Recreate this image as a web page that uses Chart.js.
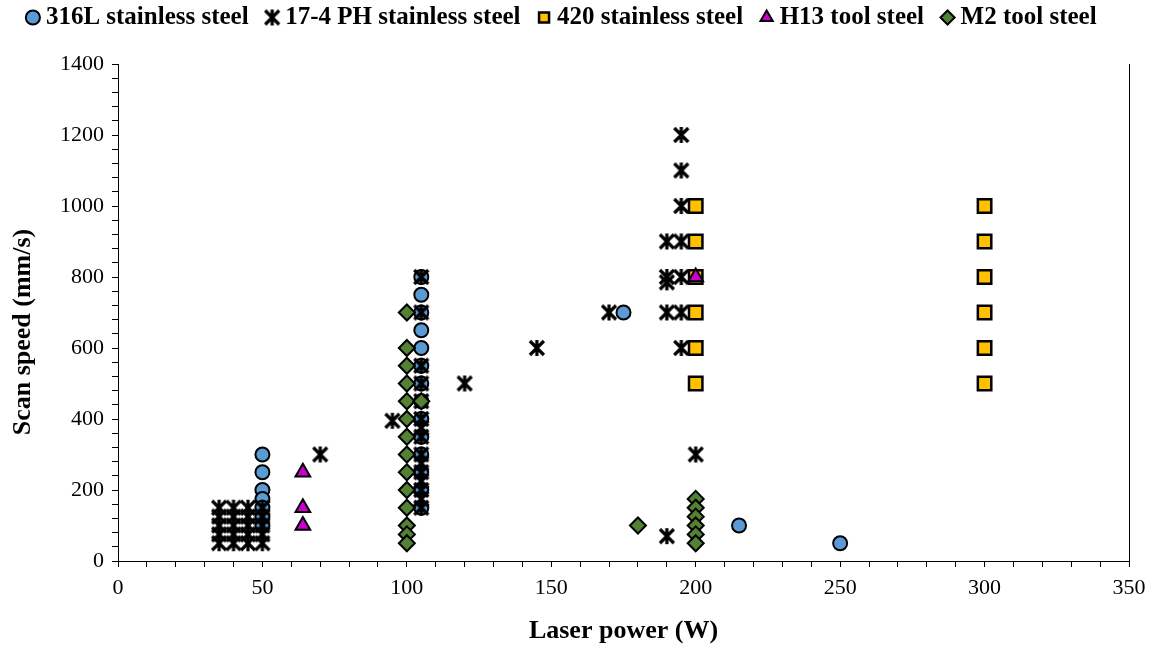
<!DOCTYPE html>
<html>
<head>
<meta charset="utf-8">
<title>Scan speed vs laser power</title>
<script src="https://cdn.jsdelivr.net/npm/chart.js@4.4.1/dist/chart.umd.min.js"></script>
<style>
  html, body { margin: 0; padding: 0; background: #ffffff; }
  #wrap { width: 1162px; height: 651px; position: relative; }
</style>
</head>
<body>
<div id="wrap"><canvas id="chart"></canvas></div>
<script>
// Data: [laser power (W), scan speed (mm/s)]
const seriesNames = ['316L stainless steel', '17-4 PH stainless steel', '420 stainless steel', 'H13 tool steel', 'M2 tool steel'];

const ss316L = [
    [50, 300], [50, 250], [50, 200], [50, 175], [50, 150], [50, 125], [50, 100],
    [105, 800], [105, 750], [105, 700], [105, 650], [105, 600], [105, 550], [105, 500], [105, 450],
    [105, 400], [105, 350], [105, 300], [105, 250], [105, 200], [105, 150],
    [175, 700], [215, 100], [250, 50]
];

const ss174PH = [
    [35, 50], [35, 75], [35, 100], [35, 125], [35, 150],
    [40, 50], [40, 75], [40, 100], [40, 125], [40, 150],
    [45, 50], [45, 75], [45, 100], [45, 125], [45, 150],
    [50, 50], [50, 75], [50, 100], [50, 125], [50, 150],
    [70, 300], [95, 395],
    [105, 800], [105, 700], [105, 550], [105, 500], [105, 450], [105, 400], [105, 375], [105, 350],
    [105, 300], [105, 275], [105, 250], [105, 225], [105, 200], [105, 175], [105, 150],
    [120, 500], [145, 600], [170, 700],
    [190, 900], [190, 800], [190, 785], [190, 700], [190, 70],
    [195, 1200], [195, 1100], [195, 1000], [195, 900], [195, 800], [195, 700], [195, 600],
    [200, 300]
];

const ss420 = [
    [200, 1000], [200, 900], [200, 800], [200, 700], [200, 600], [200, 500],
    [300, 1000], [300, 900], [300, 800], [300, 700], [300, 600], [300, 500]
];

const h13 = [[64, 250], [64, 150], [64, 100], [200, 800]];

const m2 = [
    [100, 700], [100, 600], [100, 550], [100, 500], [100, 450], [100, 400], [100, 350],
    [100, 300], [100, 250], [100, 200], [100, 150], [100, 100], [100, 75], [100, 50],
    [105, 450], [180, 100],
    [200, 175], [200, 150], [200, 125], [200, 100], [200, 75], [200, 50]
];

const xTickStep = 10, xLabelStep = 50;
const yTickStep = 40, yLabelStep = 200;

function toPoints(arr) {
    return arr.map(p => ({ x: p[0], y: p[1] }));
}

// Excel style "*" marker: an X with a vertical stroke
function makeStar() {
    const c = document.createElement('canvas');
    c.width = 20; c.height = 20;
    const g = c.getContext('2d');
    g.strokeStyle = '#000';
    g.lineWidth = 3.2;
    g.lineCap = 'butt';
    g.beginPath();
    g.moveTo(3, 3); g.lineTo(17, 17);
    g.moveTo(17, 3); g.lineTo(3, 17);
    g.moveTo(10, 2); g.lineTo(10, 18);
    g.stroke();
    return c;
}
const starMark = makeStar();

const serif = "'Liberation Serif', 'Times New Roman', serif";

// keep Excel's stacking: later series on top, legend in series order
const datasets = [
    { label: seriesNames[0], data: toPoints(ss316L), pointStyle: 'circle', pointRadius: 7,
      backgroundColor: '#5B9BD5', borderColor: '#000', borderWidth: 2, order: 4 },
    { label: seriesNames[1], data: toPoints(ss174PH), pointStyle: starMark, pointRadius: 8,
      backgroundColor: '#000', borderColor: '#000', borderWidth: 0, order: 3 },
    { label: seriesNames[2], data: toPoints(ss420), pointStyle: 'rect', pointRadius: 9.5,
      backgroundColor: '#FFC000', borderColor: '#000', borderWidth: 2.5, order: 2 },
    { label: seriesNames[3], data: toPoints(h13), pointStyle: 'triangle', pointRadius: 8.5,
      backgroundColor: '#CC00CC', borderColor: '#000', borderWidth: 2, order: 1 },
    { label: seriesNames[4], data: toPoints(m2), pointStyle: 'rectRot', pointRadius: 8,
      backgroundColor: '#548235', borderColor: '#000', borderWidth: 2, order: 0 }
];

const fixLegendHeight = {
    id: 'fixLegendHeight',
    beforeInit(chart) {
        const fit = chart.legend.fit;
        chart.legend.fit = function () {
            fit.bind(chart.legend)();
            this.height = 82;
        };
    }
};

new Chart(document.getElementById('chart'), {
    type: 'scatter',
    data: { datasets: datasets },
    plugins: [fixLegendHeight],
    options: {
        responsive: true,
        maintainAspectRatio: false,
        animation: false,
        layout: { padding: { left: 0, right: 33, top: -18, bottom: 0 } },
        plugins: {
            tooltip: { enabled: false },
            legend: {
                position: 'top',
                labels: {
                    usePointStyle: true,
                    boxWidth: 1,
                    boxHeight: 10,
                    padding: 23,
                    color: '#000',
                    font: { family: serif, size: 25, weight: 'bold' },
                    sort: (a, b) => a.datasetIndex - b.datasetIndex
                }
            }
        },
        scales: {
            x: {
                type: 'linear',
                min: 0, max: 350,
                afterFit: s => { s.height = 90; },
                border: { display: true, color: '#000', width: 1 },
                grid: { display: true, drawOnChartArea: false, drawTicks: true, tickLength: 6, color: '#000' },
                ticks: {
                    stepSize: xTickStep, autoSkip: false, maxRotation: 0, padding: 8, color: '#000',
                    font: { family: serif, size: 22 },
                    callback: v => (v % xLabelStep === 0 ? v : '')
                },
                title: {
                    display: true, text: 'Laser power (W)', color: '#000', padding: 4,
                    font: { family: serif, size: 26, weight: 'bold' }
                }
            },
            y: {
                type: 'linear',
                min: 0, max: 1400,
                afterFit: s => { s.width = 118; },
                border: { display: true, color: '#000', width: 1 },
                grid: { display: true, drawOnChartArea: false, drawTicks: true, tickLength: 6, color: '#000' },
                ticks: {
                    stepSize: yTickStep, autoSkip: false, padding: 8, color: '#000',
                    font: { family: serif, size: 22 },
                    callback: v => (v % yLabelStep === 0 ? v : '')
                },
                title: {
                    // trailing spaces nudge the rotated title down, as in the original
                    display: true, text: 'Scan speed (mm/s)      ', color: '#000', padding: 8,
                    font: { family: serif, size: 26, weight: 'bold' }
                }
            },
            yRight: {
                type: 'linear',
                position: 'right',
                min: 0, max: 1400,
                afterFit: s => { s.width = 0; },
                border: { display: true, color: '#000', width: 1 },
                grid: { display: false, drawTicks: false },
                ticks: { display: false }
            }
        }
    }
});
</script>
</body>
</html>
